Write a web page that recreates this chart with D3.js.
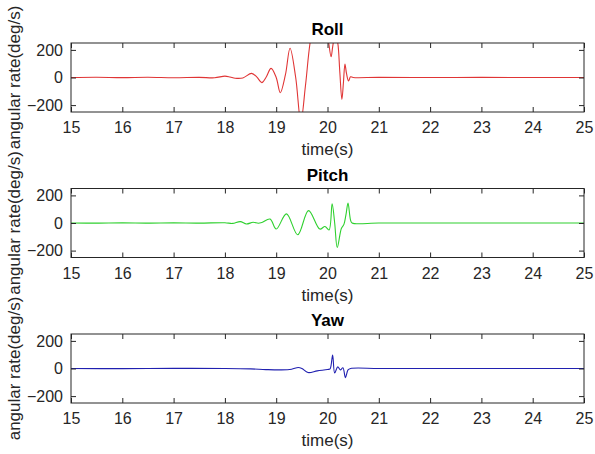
<!DOCTYPE html>
<html>
<head>
<meta charset="utf-8">
<script src="https://cdn.jsdelivr.net/npm/d3@7"></script>
<style>
  body { margin: 0; background: #fff; }
  svg text { font-family: "Liberation Sans", Arial, sans-serif; fill: #262626; }
</style>
</head>
<body>
<svg id="chart" width="595" height="454"></svg>
<script>
// values (time in s, rate in deg/s)
const rollTime = [15, 15.5, 16, 16.5, 17, 17.5, 17.8, 18, 18.1, 18.2, 18.35, 18.52, 18.62, 18.72, 18.8, 18.9, 19, 19.08, 19.18, 19.27, 19.38, 19.48, 19.57, 19.66, 19.75, 19.85, 19.95, 20.02, 20.07, 20.1, 20.15, 20.2, 20.24, 20.28, 20.31, 20.34, 20.37, 20.41, 20.45, 20.5, 21, 22, 23, 24, 25];
const rollRate = [0, 2, -1, 2, -2, 1, -2, 10, 4, -5, -3, 30, 5, -37, 0, 66, 0, -110, 20, 212, 0, -320, -60, 250, 420, 480, 420, 260, 150, 220, 320, 250, 40, -159, -40, 97, 30, -25, 5, 0, 1, 0, 1, 0, 0];

const pitchTime = [15, 15.5, 16, 16.5, 17, 17.5, 18, 18.15, 18.3, 18.42, 18.55, 18.65, 18.72, 18.88, 19, 19.2, 19.42, 19.63, 19.85, 19.95, 20.03, 20.09, 20.14, 20.19, 20.27, 20.32, 20.36, 20.4, 20.45, 20.48, 21, 22, 23, 24, 25];
const pitchRate = [0, -1, 1, -1, 1, -1, 2, -3, 10, -7, 5, -2, 3, 29, -44, 66, -85, 90, -44, -25, -50, 139, 0, -178, -40, -10, 60, 144, 20, 0, 0, 0, 0, 0, 0];

const yawTime = [15, 16, 17, 18, 18.5, 18.8, 19.1, 19.3, 19.43, 19.5, 19.62, 19.8, 20, 20.05, 20.1, 20.14, 20.2, 20.25, 20.3, 20.35, 20.4, 20.45, 21, 22, 23, 24, 25];
const yawRate = [0, -1, 1, 0, -3, -8, -10, -5, 7, 0, -29, -17, -7, -2, 98, -32, 12, -10, 5, -66, -10, 0, 0, 0, 0, 0, 0];

const titles = ['Roll', 'Pitch', 'Yaw'];
const colors = ['#e03535', '#2ed02e', '#2020b0'];
const xTicks = [15, 16, 17, 18, 19, 20, 21, 22, 23, 24, 25];
const yTicks = [-200, 0, 200];

const series = [
  { t: rollTime, v: rollRate },
  { t: pitchTime, v: pitchRate },
  { t: yawTime, v: yawRate }
];

const svg = d3.select('#chart');
const left = 71, right = 584, h = 69;
const tops = [43, 188.5, 334];
const axisColor = '#262626';

xScale = d3.scaleLinear().domain([15, 25]).range([left, right]);

series.forEach((s, i) => {
  const top = tops[i];
  const yScale = d3.scaleLinear().domain([-250, 250]).range([top + h, top]);
  const g = svg.append('g');

  g.append('clipPath').attr('id', 'clip' + i)
    .append('rect')
    .attr('x', left).attr('y', top)
    .attr('width', right - left).attr('height', h);

  const pts = s.t.map((t, k) => [t, s.v[k]]);
  const line = d3.line()
    .x(d => xScale(d[0]))
    .y(d => yScale(d[1]))
    .curve(d3.curveCatmullRom.alpha(0.5));

  g.append('path')
    .datum(pts)
    .attr('clip-path', 'url(#clip' + i + ')')
    .attr('fill', 'none')
    .attr('stroke', colors[i])
    .attr('stroke-width', 1.1)
    .attr('d', line);

  // axes, ticks pointing inward on all four sides
  const bottom = g.append('g').attr('transform', `translate(0,${top + h})`)
    .call(d3.axisBottom(xScale).tickValues(xTicks).tickSize(-5).tickSizeOuter(0).tickPadding(10));
  g.append('g').attr('transform', `translate(0,${top})`)
    .call(d3.axisTop(xScale).tickValues(xTicks).tickSize(-5).tickSizeOuter(0).tickFormat(''));
  const leftAx = g.append('g').attr('transform', `translate(${left},0)`)
    .call(d3.axisLeft(yScale).tickValues(yTicks).tickSize(-5).tickSizeOuter(0).tickPadding(8));
  g.append('g').attr('transform', `translate(${right},0)`)
    .call(d3.axisRight(yScale).tickValues(yTicks).tickSize(-5).tickSizeOuter(0).tickFormat(''));

  g.selectAll('.domain').remove();
  g.selectAll('.tick line').attr('stroke', axisColor);
  g.selectAll('.tick text').attr('font-size', 16).attr('fill', axisColor)
    .style('font-family', '"Liberation Sans", Arial, sans-serif');

  g.append('rect')
    .attr('x', left).attr('y', top)
    .attr('width', right - left).attr('height', h)
    .attr('fill', 'none').attr('stroke', axisColor).attr('stroke-width', 1);

  g.append('text')
    .attr('x', (left + right) / 2).attr('y', top - 8)
    .attr('text-anchor', 'middle')
    .attr('font-size', 17).attr('font-weight', 'bold')
    .style('fill', '#000')
    .text(titles[i]);

  g.append('text')
    .attr('x', (left + right) / 2).attr('y', top + h + 43)
    .attr('text-anchor', 'middle')
    .attr('font-size', 17)
    .text('time(s)');

  g.append('text')
    .attr('transform', `translate(20,${top + h / 2}) rotate(-90)`)
    .attr('text-anchor', 'middle')
    .attr('font-size', 17)
    .text('angular rate(deg/s)');
});
</script>
</body>
</html>
